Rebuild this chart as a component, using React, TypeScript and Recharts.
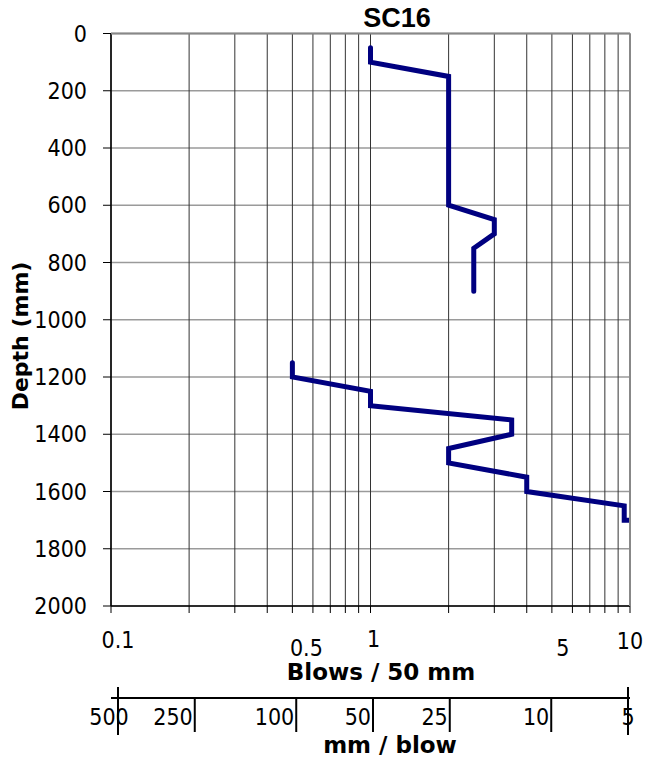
import { LineChart, Line, XAxis, YAxis, CartesianGrid } from 'recharts'

// DCP test SC16: blows per 50 mm against depth
const upperBlows = [1, 1, 2, 2, 3, 3, 2.5, 2.5]
const upperDepth = [50, 100, 150, 600, 650, 700, 750, 900]
const lowerBlows = [0.5, 0.5, 1, 1, 3.5, 3.5, 2, 2, 4, 4, 9.5, 9.5, 10]
const lowerDepth = [1150, 1200, 1250, 1300, 1350, 1400, 1450, 1500, 1550, 1600, 1650, 1700, 1700]

const depthTicks = [0, 200, 400, 600, 800, 1000, 1200, 1400, 1600, 1800, 2000]
const blowTicks = [0.1, 0.2, 0.3, 0.4, 0.5, 0.6, 0.7, 0.8, 0.9, 1, 2, 3, 4, 5, 6, 7, 8, 9, 10]
const blowLabels = [0.1, 0.5, 1, 5, 10]
const mmTicks = [500, 250, 100, 50, 25, 10, 5]

const FONT = "'DejaVu Sans Condensed', 'Liberation Sans', sans-serif"
const BOLD = "'DejaVu Sans', sans-serif"
const NAVY = '#000080'

const rows = [
  ...upperBlows.map((b, i) => ({ blows: b, upper: upperDepth[i], lower: null })),
  ...lowerBlows.map((b, i) => ({ blows: b, upper: null, lower: lowerDepth[i] })),
]

// Excel put the labels a little off their gridlines, and 0.5 / 5 sit lower
const labelShift: Record<string, { dx: number; dy: number }> = {
  '0.1': { dx: 7, dy: 35 },
  '0.5': { dx: 14, dy: 43 },
  '1': { dx: 3, dy: 34 },
  '5': { dx: 11, dy: 43 },
  '10': { dx: 0, dy: 36 },
}

function BlowTick(props: any) {
  const { x, y, payload } = props
  const key = String(payload.value)
  if (!blowLabels.includes(payload.value)) return <g />
  const s = labelShift[key]
  return (
    <text x={x + s.dx} y={y + s.dy} textAnchor="middle" fontSize={23} fontFamily={FONT} fill="#000">
      {key}
    </text>
  )
}

function MmTick(props: any) {
  const { x, y, payload } = props
  const v = payload.value
  const first = mmTicks[0]
  const last = mmTicks[mmTicks.length - 1]
  const isEnd = v === first || v === last
  let tx = x - 2
  let anchor = 'end'
  if (v === first) { tx = x - 9; anchor = 'middle' }
  if (v === last) { tx = x; anchor = 'middle' }
  return (
    <g>
      <line x1={x} x2={x} y1={isEnd ? y - 11 : y} y2={isEnd ? y + 37 : y + 34} stroke="#000" strokeWidth={2} />
      <text x={tx} y={y + 27} textAnchor={anchor} fontSize={23} fontFamily={FONT} fill="#000">
        {v}
      </text>
    </g>
  )
}

export default function App() {
  return (
    <div style={{ position: 'absolute', left: 0, top: 0, width: 655, height: 759, background: '#fff' }}>
      <LineChart width={655} height={759} data={rows} margin={{ top: 33.5, right: 25, left: 0, bottom: 0 }}>
        <CartesianGrid vertical={false} stroke="#9a9a9a" strokeWidth={1.5} />
        <CartesianGrid horizontal={false} stroke="#333" strokeWidth={1} />
        <XAxis
          dataKey="blows"
          type="number"
          scale="log"
          domain={[0.1, 10]}
          ticks={blowTicks}
          allowDataOverflow
          height={92}
          tickSize={7}
          tickMargin={0}
          axisLine={{ stroke: '#000', strokeWidth: 1.5 }}
          tickLine={{ stroke: '#000' }}
          tick={<BlowTick />}
          interval={0}
        />
        <XAxis
          xAxisId="mm"
          dataKey={(r: any) => 50 / r.blows}
          type="number"
          scale="log"
          domain={[5, 500]}
          reversed
          ticks={mmTicks}
          allowDataOverflow
          padding={{ left: 7, right: 2 }}
          height={61}
          tickSize={0}
          tickMargin={0}
          axisLine={{ stroke: '#000', strokeWidth: 2 }}
          tickLine={false}
          tick={<MmTick />}
          interval={0}
        />
        <YAxis
          type="number"
          domain={[0, 2000]}
          reversed
          ticks={depthTicks}
          width={111}
          tickSize={8}
          tickMargin={16}
          interval={0}
          axisLine={{ stroke: '#000', strokeWidth: 1.5 }}
          tickLine={{ stroke: '#000' }}
          tick={{ fill: '#000', fontSize: 23, fontFamily: FONT }}
        />
        {/* invisible copy so the mm / blow scale has data */}
        <Line xAxisId="mm" dataKey="upper" stroke="none" dot={false} activeDot={false} isAnimationActive={false} />
        <Line dataKey="upper" stroke={NAVY} strokeWidth={5} dot={false} isAnimationActive={false} strokeLinecap="round" />
        <Line dataKey="lower" stroke={NAVY} strokeWidth={5} dot={false} isAnimationActive={false} strokeLinecap="round" />
      </LineChart>
      <svg width={655} height={759} style={{ position: 'absolute', left: 0, top: 0, pointerEvents: 'none' }}>
        <line x1={111} x2={630} y1={33.5} y2={33.5} stroke="#888" strokeWidth={2} />
        <line x1={630} x2={630} y1={33.5} y2={606} stroke="#888" strokeWidth={2} />
        <text x={397} y={26.5} textAnchor="middle" fontSize={27} fontWeight="bold" fontFamily="'Liberation Sans', Arial, sans-serif">SC16</text>
        <text x={381} y={680} textAnchor="middle" fontSize={23} fontWeight="bold" fontFamily={BOLD}>Blows / 50 mm</text>
        <text x={390} y={753} textAnchor="middle" fontSize={23} fontWeight="bold" fontFamily={BOLD}>mm / blow</text>
        <text x={28} y={336} transform="rotate(-90 28 336)" textAnchor="middle" fontSize={22} fontWeight="bold" fontFamily={BOLD}>Depth (mm)</text>
      </svg>
    </div>
  )
}
